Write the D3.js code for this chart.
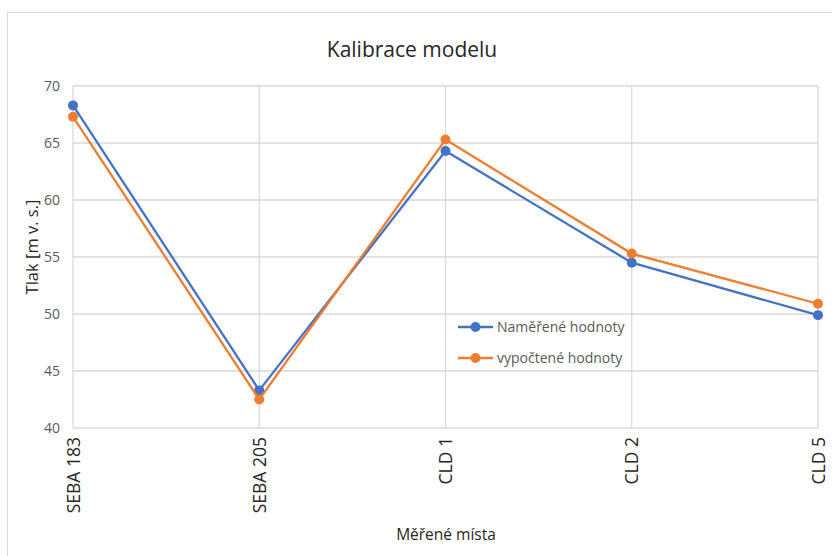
<!DOCTYPE html>
<html>
<head>
<meta charset="utf-8">
<script src="https://cdn.jsdelivr.net/npm/d3@7"></script>
<style>
  body { margin: 0; background: #fff; }
  text { font-family: "Open Sans", "Noto Sans", sans-serif; }
</style>
</head>
<body>
<svg id="chart" width="832" height="556"></svg>
<script>
let categories = ["SEBA 183", "SEBA 205", "CLD 1", "CLD 2", "CLD 5"]
let measured = [68.3, 43.3, 64.3, 54.5, 49.9]
let computed = [67.3, 42.5, 65.3, 55.3, 50.9]
let yTicks = [40, 45, 50, 55, 60, 65, 70]
let seriesNames = ["Naměřené hodnoty", "vypočtené hodnoty"]
let colors = ["#4472C4", "#ED7D31"]

let svg = d3.select("#chart")

// outer chart frame
svg.append("rect")
    .attr("x", 7.5).attr("y", 12.5)
    .attr("width", 840).attr("height", 560)
    .attr("fill", "none")
    .attr("stroke", "#d9d9d9")

let x = d3.scalePoint().domain(categories).range([73, 818])
let y = d3.scaleLinear().domain([40, 70]).range([428, 86])

// horizontal grid
svg.append("g")
    .selectAll("line")
    .data(yTicks)
    .enter()
    .append("line")
    .attr("x1", 73).attr("x2", 818)
    .attr("y1", d => y(d)).attr("y2", d => y(d))
    .attr("stroke", "#d9d9d9")
    .attr("stroke-width", 1.3)

// vertical grid
svg.append("g")
    .selectAll("line")
    .data(categories)
    .enter()
    .append("line")
    .attr("x1", d => x(d)).attr("x2", d => x(d))
    .attr("y1", y(70)).attr("y2", y(40))
    .attr("stroke", "#d9d9d9")
    .attr("stroke-width", 1.3)

// y tick labels
svg.append("g")
    .selectAll("text")
    .data(yTicks)
    .enter()
    .append("text")
    .attr("x", 60)
    .attr("y", d => y(d) + 5)
    .attr("text-anchor", "end")
    .attr("font-size", 14)
    .attr("fill", "#595959")
    .text(d => d)

// x tick labels (rotated)
svg.append("g")
    .selectAll("text")
    .data(categories)
    .enter()
    .append("text")
    .attr("transform", d => "translate(" + (x(d) + 6.5) + ",437) rotate(-90)")
    .attr("text-anchor", "end")
    .attr("font-size", 17.5)
    .attr("fill", "#262626")
    .text(d => d)

// titles
svg.append("text")
    .attr("x", 412).attr("y", 57)
    .attr("text-anchor", "middle")
    .attr("font-size", 21)
    .attr("fill", "#262626")
    .text("Kalibrace modelu")

svg.append("text")
    .attr("transform", "translate(38,247) rotate(-90)")
    .attr("text-anchor", "middle")
    .attr("font-size", 16.5)
    .attr("fill", "#262626")
    .text("Tlak [m v. s.]")

svg.append("text")
    .attr("x", 446).attr("y", 540)
    .attr("text-anchor", "middle")
    .attr("font-size", 15.5)
    .attr("fill", "#262626")
    .text("Měřené místa")

let line = d3.line()
    .x((d, i) => x(categories[i]))
    .y(d => y(d))

let allSeries = [measured, computed]
allSeries.forEach((values, s) => {
    svg.append("path")
        .datum(values)
        .attr("d", line)
        .attr("fill", "none")
        .attr("stroke", colors[s])
        .attr("stroke-width", 2.3)
    svg.append("g")
        .selectAll("circle")
        .data(values)
        .enter()
        .append("circle")
        .attr("cx", (d, i) => x(categories[i]))
        .attr("cy", d => y(d))
        .attr("r", 5)
        .attr("fill", colors[s])
})

// legend
let legend = svg.append("g")
    .selectAll("g")
    .data(seriesNames)
    .enter()
    .append("g")
    .attr("transform", (d, i) => "translate(458," + (327 + i * 31) + ")")

legend.append("line")
    .attr("x1", 0).attr("x2", 35)
    .attr("stroke", (d, i) => colors[i])
    .attr("stroke-width", 2.3)
legend.append("circle")
    .attr("cx", 17.5).attr("r", 5)
    .attr("fill", (d, i) => colors[i])
legend.append("text")
    .attr("x", 39).attr("y", 5)
    .attr("font-size", 14)
    .attr("fill", "#595959")
    .text(d => d)
</script>
</body>
</html>
